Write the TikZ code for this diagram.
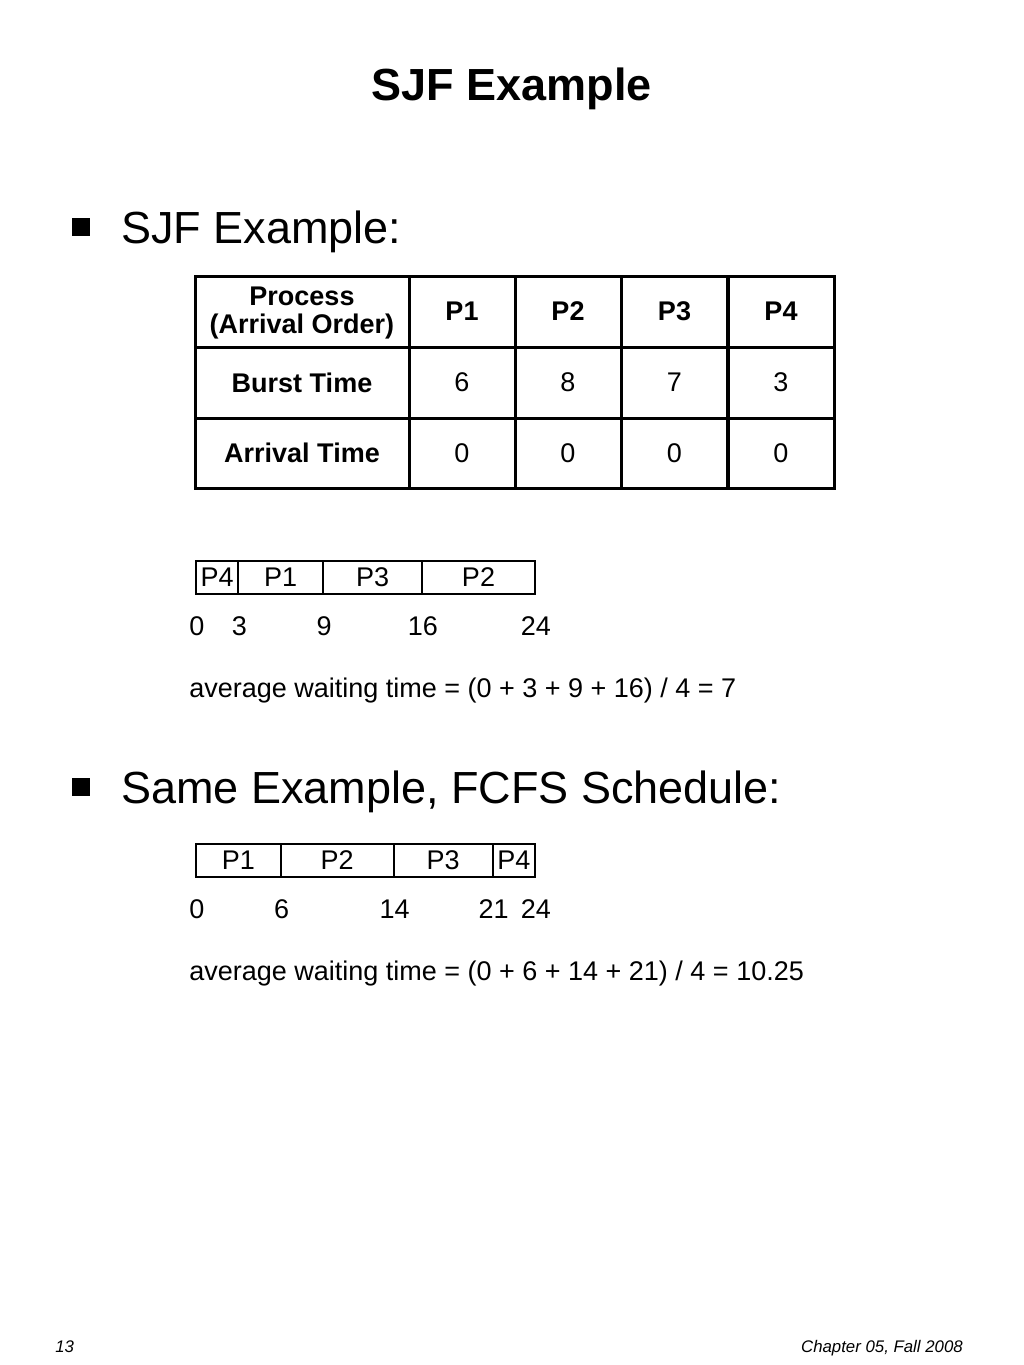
\documentclass[tikz,border=0pt]{standalone}
\usepackage{fontspec}
\setmainfont{Liberation Sans}
\usetikzlibrary{positioning}
\newcommand{\px}{0.75pt}
\newcommand{\bigfont}{\fontsize{33.75}{40}\selectfont}
\newcommand{\midfont}{\fontsize{20.25}{21}\selectfont}
\newcommand{\footfont}{\fontsize{12.6}{15}\selectfont\itshape}
\begin{document}
\begin{tikzpicture}[
  x=0.75pt,y=-0.75pt,
  heading/.style={font=\bigfont\bfseries,anchor=base,inner sep=0pt},
  bullettext/.style={font=\bigfont,anchor=base west,inner sep=0pt},
  bulletsq/.style={fill=black,minimum size={18*\px},inner sep=0pt},
  cell/.style={draw=black,line width={3*\px},minimum height={71*\px},minimum width={106*\px},inner sep=0pt,align=center,font=\midfont},
  headcell/.style={cell,font=\midfont\bfseries},
  slot/.style={draw=black,line width={2*\px},minimum height={33*\px},inner sep=0pt,font=\midfont},
  timelabel/.style={font=\midfont,anchor=base,inner sep=0pt},
  plain/.style={font=\midfont,anchor=base west,inner sep=0pt},
  footer/.style={font=\footfont,inner sep=0pt},
]
\useasboundingbox (0,0) rectangle (1024,1365);
% ---- title ----
\node[heading] (title) at (512,100) {SJF Example};
% ---- first bullet ----
\node[bulletsq] (b1) at (81,227) {};
\node[bullettext] (sjf) at (121,243) {SJF Example:};
% ---- process table ----
\node[headcell,minimum width={214*\px}] (hproc) at (302,311.5) {};
\node[font=\midfont\bfseries,align=center,inner sep=0pt,anchor=north] (hproctext) at (302,286.5) {Process\\(Arrival Order)};
\node[headcell,minimum width={214*\px}] (hburst) at (302,382.5) {Burst Time};
\node[headcell,minimum width={214*\px},minimum height={70*\px}] (harr) at (302,453) {Arrival Time};
\foreach \name/\cx/\burst in {P1/462/6, P2/568/8, P3/674.5/7, P4/781/3}{
  \node[headcell] (h\name) at (\cx,311.5) {\name};
  \node[cell] (burst\name) at (\cx,382.5) {\burst};
  \node[cell,minimum height={70*\px}] (arr\name) at (\cx,453) {0};
}
% ---- SJF gantt chart ----
\foreach \from/\to/\name in {0/3/P4, 3/9/P1, 9/16/P3, 16/24/P2}{
  \node[slot,minimum width={(\to-\from)*14.125*\px}] (sjf\name) at ({196+(\from+\to)/2*14.125},577.5) {\name};
}
\foreach \t in {0,3,9,16,24}{
  \node[timelabel] (sjft\t) at ({197+\t*14.125},635) {\t};
}
\node[plain] (sjfavg) at (189,697) {average waiting time = (0 + 3 + 9 + 16) / 4 = 7};
% ---- second bullet ----
\node[bulletsq] (b2) at (81,787) {};
\node[bullettext] (fcfs) at (121,803) {Same Example, FCFS Schedule:};
% ---- FCFS gantt chart ----
\foreach \from/\to/\name in {0/6/P1, 6/14/P2, 14/21/P3, 21/24/P4}{
  \node[slot,minimum width={(\to-\from)*14.125*\px}] (fcfs\name) at ({196+(\from+\to)/2*14.125},860.5) {\name};
}
\foreach \t in {0,6,14,21,24}{
  \node[timelabel] (fcfst\t) at ({197+\t*14.125},918) {\t};
}
\node[plain] (fcfsavg) at (189,980) {average waiting time = (0 + 6 + 14 + 21) / 4 = 10.25};
% ---- footer ----
\node[footer,anchor=base west] (page) at (55,1352) {13};
\node[footer,anchor=base east] (chap) at (963,1352) {Chapter 05, Fall 2008};
\end{tikzpicture}
\end{document}
